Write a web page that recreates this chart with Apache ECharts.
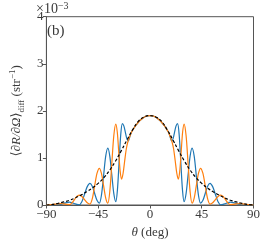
<!DOCTYPE html>
<html><head><meta charset="utf-8">
<script src="https://cdn.jsdelivr.net/npm/echarts@6/dist/echarts.min.js"></script>
<style>html,body{margin:0;padding:0;background:#fff}#c{width:266px;height:245px}</style>
</head><body><div id="c"></div>
<script>
// theta (deg), value (x1e-3 str^-1)
const blue = [
[-90,0],[-85,0.003],[-80,0.005],[-77.5,0.013],[-75,0.033],[-72.5,0.052],[-70,0.06],[-67.9,0.052],[-65.75,0.033],[-63.6,0.013],[-61.5,0.005],
[-59.2,0.07],[-56.85,0.23],[-54.5,0.39],[-52.2,0.46],[-50.15,0.40],[-48.1,0.25],[-46.05,0.10],[-44,0.04],[-42.15,0.21],[-40.3,0.62],
[-38.45,1.04],[-36.6,1.21],[-34.9,1.04],[-33.15,0.64],[-31.4,0.24],[-29.7,0.07],[-28.3,0.31],[-26.85,0.90],[-25.4,1.49],[-24,1.73],
[-22.7,1.68],[-21.4,1.55],[-20.1,1.41],[-18.8,1.36],[-17.5,1.45],[-16,1.55],[-14,1.63],[-12,1.70],[-9,1.79],[-6,1.85],[-3,1.89],
[0,1.90],
[3,1.89],[6,1.85],[9,1.79],[12,1.70],[14,1.63],[16,1.55],[17.5,1.45],[18.8,1.36],[20.1,1.41],[21.4,1.55],[22.7,1.68],[24,1.73],
[25.4,1.49],[26.85,0.90],[28.3,0.31],[29.7,0.07],[31.4,0.24],[33.15,0.64],[34.9,1.04],[36.6,1.21],[38.45,1.04],[40.3,0.62],[42.15,0.21],
[44,0.04],[46.05,0.10],[48.1,0.25],[50.15,0.40],[52.2,0.46],[54.5,0.39],[56.85,0.23],[59.2,0.07],[61.5,0.005],[63.6,0.013],[65.75,0.033],
[67.9,0.052],[70,0.06],[72.5,0.052],[75,0.033],[77.5,0.013],[80,0.005],[85,0.003],[90,0]
];
const orange = [
[-90,0],[-86,0.008],[-82,0.02],[-78,0.03],[-76,0.027],[-74,0.02],[-72,0.013],[-70,0.01],[-67.9,0.04],[-65.75,0.11],[-63.6,0.18],[-61.5,0.21],
[-59.2,0.182],[-56.85,0.115],[-54.5,0.048],[-52.2,0.02],[-50.15,0.13],[-48.1,0.40],[-46.05,0.67],[-44,0.78],[-42.15,0.67],[-40.3,0.41],
[-38.45,0.148],[-36.6,0.04],[-34.9,0.285],[-33.15,0.88],[-31.4,1.475],[-29.7,1.72],[-28.4,1.55],[-27.15,1.135],[-25.9,0.72],[-24.6,0.55],
[-23.3,0.68],[-22,0.93],[-20.5,1.20],[-19,1.36],[-17.5,1.46],[-16,1.55],[-14,1.63],[-12,1.70],[-9,1.79],[-6,1.85],[-3,1.89],
[0,1.90],
[3,1.89],[6,1.85],[9,1.79],[12,1.70],[14,1.63],[16,1.55],[17.5,1.46],[19,1.36],[20.5,1.20],[22,0.93],[23.3,0.68],[24.6,0.55],
[25.9,0.72],[27.15,1.135],[28.4,1.55],[29.7,1.72],[31.4,1.475],[33.15,0.88],[34.9,0.285],[36.6,0.04],[38.45,0.148],[40.3,0.41],
[42.15,0.67],[44,0.78],[46.05,0.67],[48.1,0.40],[50.15,0.13],[52.2,0.02],[54.5,0.048],[56.85,0.115],[59.2,0.182],[61.5,0.21],
[63.6,0.18],[65.75,0.11],[67.9,0.04],[70,0.01],[72,0.013],[74,0.02],[76,0.027],[78,0.03],[82,0.02],[86,0.008],[90,0]
];
const envelope = [
[-90,0],[-85,0.013],[-80,0.035],[-75,0.065],[-70,0.10],[-65,0.15],[-60,0.21],[-55,0.28],[-50,0.36],[-45,0.46],[-40,0.58],
[-35,0.74],[-30,0.93],[-25,1.15],[-20,1.38],[-15,1.60],[-10,1.78],[-5,1.87],[0,1.90],[5,1.87],[10,1.78],[15,1.60],[20,1.38],
[25,1.15],[30,0.93],[35,0.74],[40,0.58],[45,0.46],[50,0.36],[55,0.28],[60,0.21],[65,0.15],[70,0.10],[75,0.065],[80,0.035],[85,0.013],[90,0]
];
const xTicks = [-90, -45, 0, 45, 90];
const yTicks = [0, 1, 2, 3, 4];

const FONT = '"Liberation Serif", "DejaVu Serif", serif';
const TXT = '#3a3a3a';
const chart = echarts.init(document.getElementById('c'), null, {renderer: 'canvas'});
const axisCol = '#555';
chart.setOption({
  animation: false,
  backgroundColor: '#fff',
  grid: {left: 34, right: 12.5, top: 16.7, bottom: 40, show: true, borderColor: axisCol, borderWidth: 1, backgroundColor: 'transparent'},
  xAxis: {
    type: 'value', min: xTicks[0], max: xTicks[xTicks.length-1], interval: 45,
    axisLine: {show: true, onZero: false, lineStyle: {color: axisCol, width: 1}},
    axisTick: {show: true, inside: false, length: 3.5, lineStyle: {color: axisCol}},
    splitLine: {show: false},
    axisLabel: {color: TXT, fontFamily: FONT, fontSize: 13, margin: 3,
      formatter: v => (v < 0 ? '\u2212' + (-v) : String(v))},
    name: '{i|\u03b8} {n|(deg)}', nameLocation: 'middle', nameGap: 20,
    nameTextStyle: {color: TXT, fontFamily: FONT, fontSize: 13,
      rich: {i: {fontStyle: 'italic', fontFamily: FONT, fontSize: 13, color: TXT}, n: {fontFamily: FONT, fontSize: 13, color: TXT}}}
  },
  yAxis: {
    type: 'value', min: yTicks[0], max: yTicks[yTicks.length-1], interval: 1,
    axisLine: {show: true, onZero: false, lineStyle: {color: axisCol, width: 1}},
    axisTick: {show: true, inside: false, length: 3.5, lineStyle: {color: axisCol}},
    splitLine: {show: false},
    axisLabel: {color: TXT, fontFamily: FONT, fontSize: 13, margin: 3},
    name: '{n|\u27e8}{i|\u2202R/\u2202\u03a9}{n|\u27e9}{s|diff}{n| (str}{p|\u22121}{n|)}',
    nameLocation: 'middle', nameGap: 18, nameRotate: 90,
    nameTextStyle: {color: TXT, fontFamily: FONT, fontSize: 13,
      rich: {
        n: {fontFamily: FONT, fontSize: 13, color: TXT, lineHeight: 18, verticalAlign: 'middle'},
        i: {fontFamily: FONT, fontSize: 13, fontStyle: 'italic', color: TXT, lineHeight: 18, verticalAlign: 'middle'},
        s: {fontFamily: FONT, fontSize: 9, color: TXT, lineHeight: 18, verticalAlign: 'bottom', padding: [6, 0, 0, 0]},
        p: {fontFamily: FONT, fontSize: 9, color: TXT, lineHeight: 18, verticalAlign: 'top', padding: [0, 0, 6, 0]}
      }}
  },
  graphic: [
    {type: 'text', left: 36, top: 1, style: {rich: {a: {fontFamily: FONT, fontSize: 14, fill: TXT}, b: {fontFamily: FONT, fontSize: 10, fill: TXT, padding: [0,0,7,0]}}, text: '{a|\u00d710}{b|\u22123}'}},
    {type: 'text', left: 47, top: 24, style: {text: '(b)', fontFamily: FONT, fontSize: 15, fill: TXT}}
  ],
  series: [
    {type: 'line', data: blue, showSymbol: false, smooth: 0.3, lineStyle: {color: '#1f77b4', width: 1.2}, z: 2},
    {type: 'line', data: orange, showSymbol: false, smooth: 0.3, lineStyle: {color: '#ff7f0e', width: 1.2}, z: 3},
    {type: 'line', data: envelope, showSymbol: false, smooth: 0.4, lineStyle: {color: '#000', width: 1.2, type: [3, 2]}, z: 4}
  ]
});
</script></body></html>
